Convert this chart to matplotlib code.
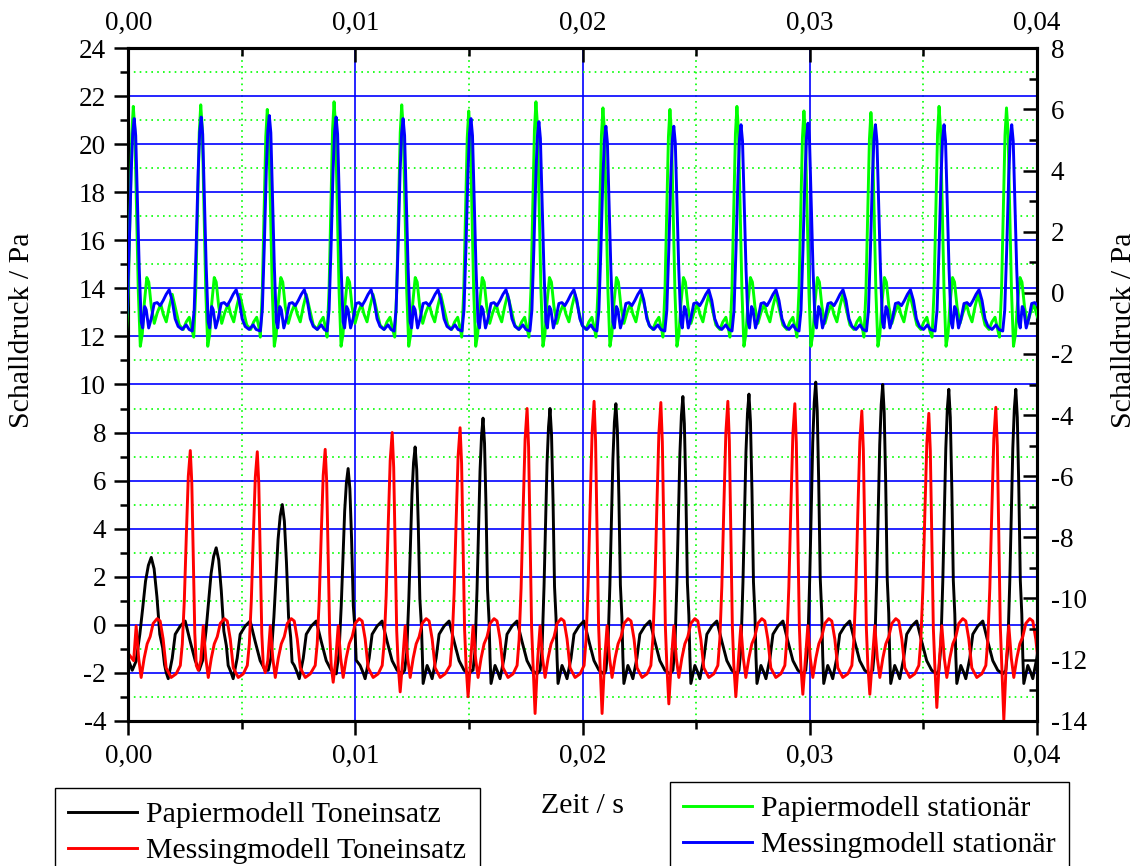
import numpy as np
import matplotlib
matplotlib.use("Agg")
import matplotlib.pyplot as plt
from matplotlib.ticker import MultipleLocator, FuncFormatter
from matplotlib.lines import Line2D

plt.rcParams['font.family'] = ['Liberation Serif', 'DejaVu Serif']
plt.rcParams['axes.unicode_minus'] = False

# ---------------- data (time in s, pressure in Pa) ----------------
# Papiermodell Toneinsatz (black, left axis)
black_peak_t = [0.00101, 0.00387, 0.00678, 0.00968, 0.01263, 0.01562, 0.01857,
                0.02147, 0.02442, 0.02733, 0.03027, 0.03322, 0.03613, 0.03908]
black_peak_p = [2.8, 3.2, 5.0, 6.5, 7.4, 8.6, 9.0, 9.2, 9.5, 9.6, 10.1, 10.0, 9.8, 9.8]
black_peak_w = [1.9, 1.7, 1.4, 1.15, 1.05, 1, 1, 1, 1, 1, 1, 1, 1, 1]
black_shape_ms = [-0.44, -0.352, -0.264, -0.198, -0.132, -0.066, 0.0, 0.066, 0.132, 0.198, 0.264, 0.308]
black_shape_f = [0.0, 0.08, 0.32, 0.55, 0.79, 0.93, 1.0, 0.9, 0.65, 0.32, 0.2, 0.05]
black_base = -1.9
black_tail_ms = [0.352, 0.528, 0.66, 0.748, 0.924, 1.056, 1.276, 1.496, 1.716, 1.936, 2.156, 2.376, 2.508]
black_tail_p = [-2.45, -1.7, -2.0, -2.25, -1.4, -0.4, -0.06, 0.15, -0.7, -1.5, -1.9, -2.05, -1.9]
black_start = -1.5

# Messingmodell Toneinsatz (red, left axis)
red_peak_t = [0.00273, 0.00568, 0.00867, 0.01162, 0.01461, 0.01756, 0.02051,
              0.02345, 0.02640, 0.02935, 0.03230, 0.03525, 0.03820]
red_peak_p = [7.25, 7.2, 7.3, 8.0, 8.2, 9.0, 9.3, 9.25, 9.3, 9.2, 8.9, 8.8, 9.05]
red_trough_p = [-1.9, -2.0, -2.4, -2.8, -3.0, -3.7, -3.7, -3.3, -3.0, -2.9, -2.9, -3.45, -3.96]
red_trough_ms = 0.352
red_shape_ms = [-0.44, -0.352, -0.264, -0.176, -0.088, 0.0, 0.066, 0.132, 0.198, 0.264]
red_shape_f = [0.0, 0.1, 0.3, 0.6, 0.88, 1.0, 0.85, 0.5, 0.15, 0.0]
red_base = -1.7
red_tail_ms = [0.462, 0.572, 0.682, 0.792, 0.924, 1.056, 1.188, 1.32, 1.496, 1.628, 1.76, 1.892, 2.112, 2.332]
red_tail_p = [-1.5, -0.05, -1.4, -2.2, -1.4, -0.8, -0.5, 0.05, 0.25, 0.15, -0.6, -1.8, -2.2, -2.05]
red_start = -1.2

# Papiermodell stationaer (green, right axis)
green_peak_t = [0.00022, 0.00319, 0.00612, 0.00906, 0.01204, 0.01499, 0.01795,
                0.02090, 0.02385, 0.02680, 0.02975, 0.03270, 0.03570, 0.03867]
green_peak_p = [6.1, 6.15, 6.0, 6.25, 6.15, 5.95, 6.25, 6.05, 6.0, 6.1, 5.95, 5.9, 6.1, 6.05]
green_shape_ms = [-0.308, -0.22, -0.132, -0.066, 0.0, 0.066, 0.132, 0.22]
green_shape_f = [0.0, 0.2, 0.6, 0.88, 1.0, 0.9, 0.6, 0.2]
green_base = -1.45
green_tail_ms = [0.308, 0.396, 0.484, 0.594, 0.682, 0.792, 0.924, 1.056, 1.21, 1.32, 1.452,
                 1.584, 1.716, 1.87, 2.024, 2.2, 2.332, 2.464, 2.596]
green_tail_p = [-1.75, -1.35, -0.35, 0.5, 0.35, -0.45, -1.0, -0.65, -0.37, -0.7, -0.95,
                -0.45, -0.05, -0.55, -1.05, -1.2, -0.95, -0.8, -1.25]

# Messingmodell stationaer (blue, right axis)
blue_peak_t = [0.00026, 0.00321, 0.00621, 0.00915, 0.01210, 0.01509, 0.01808,
               0.02103, 0.02402, 0.02698, 0.02993, 0.03290, 0.03592, 0.03890]
blue_peak_p = [5.7, 5.75, 5.8, 5.75, 5.7, 5.7, 5.6, 5.45, 5.45, 5.5, 5.55, 5.5, 5.5, 5.5]
blue_shape_ms = [-0.396, -0.308, -0.22, -0.132, -0.066, 0.0, 0.066, 0.132, 0.22]
blue_shape_f = [0.0, 0.1, 0.4, 0.75, 0.93, 1.0, 0.92, 0.65, 0.3]
blue_base = -1.25
blue_tail_ms = [0.308, 0.374, 0.462, 0.528, 0.638, 0.748, 0.88, 1.012, 1.144, 1.276,
                1.408, 1.54, 1.672, 1.804, 1.936, 2.112, 2.288, 2.42]
blue_tail_p = [-0.95, -1.15, -0.45, -0.55, -1.15, -0.85, -0.35, -0.32, -0.42, -0.25,
               -0.05, 0.1, -0.25, -0.85, -1.1, -1.2, -1.05, -1.2]


def build(pt, pp, sh_ms, sh_f, base, tl_ms, tl_p, pw=None, start=None,
          troughs=None, trough_ms=None):
    pt = np.asarray(pt, float)
    n = len(pt)
    pw = np.ones(n) if pw is None else np.asarray(pw, float)
    sh_ms = np.asarray(sh_ms) * 1e-3
    tl = np.asarray(tl_ms) * 1e-3
    period = np.mean(np.diff(pt))
    ts, vs = [], []
    first_start = pt[0] + sh_ms[0] * pw[0]
    if start is not None:
        ts.append(0.0)
        vs.append(start)
    for o, v in zip(tl, tl_p):
        t = pt[0] - period + o
        if t < first_start and (start is None or t > 0):
            ts.append(t)
            vs.append(v)
    for i in range(n):
        st = pt[i] + sh_ms * pw[i]
        sv = base + np.asarray(sh_f) * (pp[i] - base)
        ts.extend(st)
        vs.extend(sv)
        last = st[-1]
        if troughs is not None:
            tt = pt[i] + trough_ms * 1e-3
            if tt > last:
                ts.append(tt)
                vs.append(troughs[i])
                last = tt
        nxt = pt[i + 1] + sh_ms[0] * pw[i + 1] if i + 1 < n else np.inf
        for o, v in zip(tl, tl_p):
            t = pt[i] + o
            if last < t < nxt:
                ts.append(t)
                vs.append(v)
    return np.array(ts), np.array(vs)


bt, bv = build(black_peak_t, black_peak_p, black_shape_ms, black_shape_f, black_base,
               black_tail_ms, black_tail_p, pw=black_peak_w, start=black_start)
rt, rv = build(red_peak_t, red_peak_p, red_shape_ms, red_shape_f, red_base,
               red_tail_ms, red_tail_p, start=red_start, troughs=red_trough_p,
               trough_ms=red_trough_ms)
gt, gv = build(green_peak_t, green_peak_p, green_shape_ms, green_shape_f, green_base,
               green_tail_ms, green_tail_p)
lt, lv = build(blue_peak_t, blue_peak_p, blue_shape_ms, blue_shape_f, blue_base,
               blue_tail_ms, blue_tail_p)

# ---------------- figure ----------------
W, H = 1142, 866
fig = plt.figure(figsize=(W / 100, H / 100), dpi=100)
L, R, T, B = 128.3, 1036.7, 48.3, 720.7
ax = fig.add_axes([L / W, 1 - B / H, (R - L) / W, (B - T) / H])
ax.set_xlim(0, 0.04)
ax.set_ylim(-4, 24)
ax.set_axisbelow(True)

ax.xaxis.set_major_locator(MultipleLocator(0.01))
ax.xaxis.set_minor_locator(MultipleLocator(0.005))
ax.yaxis.set_major_locator(MultipleLocator(2))
ax.yaxis.set_minor_locator(MultipleLocator(1))
ax.grid(which='major', color='#0000ff', lw=1.2, ls='-')
ax.grid(which='minor', color='#00ff00', lw=1.2, ls=(0, (1, 2.5)))

xfmt = FuncFormatter(lambda v, p: f"{v:.2f}".replace('.', ','))
yfmt = FuncFormatter(lambda v, p: f"{v:g}")
ax.xaxis.set_major_formatter(xfmt)
ax.yaxis.set_major_formatter(yfmt)

tick_fs = 19.5
ax.tick_params(axis='x', which='both', direction='out', top=False, labeltop=False,
               labelsize=tick_fs, pad=7, width=1.8)
ax.tick_params(axis='y', which='both', direction='out', right=False, labelsize=tick_fs,
               pad=6, width=1.8)
ax.tick_params(which='major', length=10)
ax.tick_params(which='minor', length=5.5)

ax.plot(bt, bv, color='#000000', lw=2.1, zorder=3)
ax.plot(rt, rv, color='#ff0000', lw=2.1, zorder=3)

ax2 = ax.twinx()
ax2.set_ylim(-14, 8)
ax2.yaxis.set_major_locator(MultipleLocator(2))
ax2.yaxis.set_minor_locator(MultipleLocator(1))
ax2.yaxis.set_major_formatter(yfmt)
ax2.tick_params(axis='y', which='both', direction='in', left=False, right=True,
                labelsize=tick_fs, pad=10, width=1.8)
# top x ticks (inward) drawn by the twin axes
ax2.xaxis.set_visible(True)
ax2.xaxis.set_major_locator(MultipleLocator(0.01))
ax2.xaxis.set_minor_locator(MultipleLocator(0.005))
ax2.xaxis.set_major_formatter(xfmt)
ax2.tick_params(axis='x', which='both', direction='in', top=True, labeltop=True,
                bottom=False, labelbottom=False, labelsize=tick_fs, pad=9, width=1.8)
ax2.tick_params(which='major', length=10)
ax2.tick_params(which='minor', length=5.5)
ax2.plot(gt, gv, color='#00ff00', lw=2.1, zorder=3)
ax2.plot(lt, lv, color='#0000ff', lw=2.1, zorder=3)

for a in (ax, ax2):
    for s in a.spines.values():
        s.set_linewidth(2.2)

lab_fs = 21.5
fig.text(22 / W, 1 - 330 / H, 'Schalldruck / Pa', rotation=90, ha='center', va='center',
         fontsize=lab_fs)
fig.text(1124 / W, 1 - 330 / H, 'Schalldruck / Pa', rotation=90, ha='center', va='center',
         fontsize=lab_fs)
fig.text(582 / W, 1 - 806 / H, 'Zeit / s', ha='center', va='center', fontsize=lab_fs)

h1 = [Line2D([], [], color='#000000', lw=2.1), Line2D([], [], color='#ff0000', lw=2.1)]
h2 = [Line2D([], [], color='#00ff00', lw=2.1), Line2D([], [], color='#0000ff', lw=2.1)]
leg_kw = dict(loc='upper left', frameon=True, fancybox=False, edgecolor='black',
              framealpha=1, fontsize=lab_fs, handlelength=2.3, handletextpad=0.3,
              borderpad=0.45, labelspacing=0.3, borderaxespad=0)
lg1 = fig.legend(h1, ['Papiermodell Toneinsatz', 'Messingmodell Toneinsatz'],
                 bbox_to_anchor=(55 / W, 1 - 788 / H), **leg_kw)
lg2 = fig.legend(h2, ['Papiermodell stationär', 'Messingmodell stationär'],
                 bbox_to_anchor=(670 / W, 1 - 782 / H), **leg_kw)
for lg in (lg1, lg2):
    lg.get_frame().set_linewidth(1.0)

fig.savefig('out.png', dpi=100)
